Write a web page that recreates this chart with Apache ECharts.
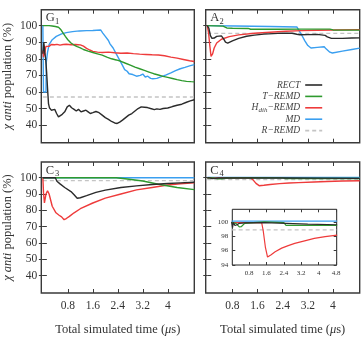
<!DOCTYPE html>
<html>
<head>
<meta charset="utf-8">
<script src="https://cdn.jsdelivr.net/npm/echarts@6/dist/echarts.min.js"></script>
<style>
  html, body { margin: 0; padding: 0; background: #fff; }
  #chart { width: 362px; height: 337px; }
</style>
</head>
<body>
<div id="chart"></div>
<script>
// series names and tick labels
const seriesNames = ['RECT', 'T−REMD', 'H_dih−REMD', 'MD', 'R−REMD']
const panelLabels = [['G', '1'], ['A', '2'], ['C', '3'], ['C', '4']]
const xTicks = [0.8, 1.6, 2.4, 3.2, 4]
const yTicks = [40, 50, 60, 70, 80, 90, 100]
const insetXTicks = [0.8, 1.6, 2.4, 3.2, 4, 4.8]
const insetYTicks = [94, 96, 98, 100]

// G1
const g1Rect = [[0,83],[0.03,90],[0.06,84],[0.09,80],[0.12,72],[0.15,62],[0.18,53],[0.21,50.5],[0.27,49],[0.33,48.5],[0.38,49.5],[0.44,47],[0.5,45],[0.56,45.5],[0.62,46.5],[0.7,48],[0.78,51],[0.85,52],[0.92,50.5],[1.0,49.5],[1.07,48.5],[1.14,49.5],[1.22,48],[1.3,48.5],[1.38,49],[1.45,48],[1.52,47],[1.6,47.5],[1.7,48.2],[1.8,47.5],[1.9,46],[2.0,44.5],[2.1,43.5],[2.2,42.2],[2.3,41.3],[2.38,41],[2.46,41.8],[2.55,43],[2.65,44.5],[2.75,46],[2.85,47],[2.95,48.5],[3.05,50],[3.15,51],[3.25,50.8],[3.35,50.6],[3.45,50],[3.57,49.3],[3.65,49.8],[3.75,49.5],[3.85,50],[4.0,50.3],[4.15,51.2],[4.3,52],[4.45,52.6],[4.6,53.8],[4.72,54.6],[4.85,55.3]]
const g1Tremd = [[0,100],[0.1,100],[0.2,100],[0.3,99.8],[0.4,99.5],[0.5,99],[0.58,97.5],[0.65,95.5],[0.72,93.5],[0.8,91.5],[0.9,89.5],[1.0,88.3],[1.1,87.3],[1.2,86.6],[1.3,85.6],[1.45,84.6],[1.6,83.8],[1.75,83],[1.9,82.2],[2.05,81],[2.2,80],[2.35,79.3],[2.5,78.5],[2.65,77.3],[2.8,76.2],[2.95,75],[3.1,74],[3.25,73],[3.4,72],[3.55,71],[3.7,70.2],[3.85,69.4],[4.0,68.8],[4.15,68.1],[4.3,67.4],[4.45,66.8],[4.6,66.4],[4.75,66.2],[4.85,66.1]]
const g1Hdih = [[0,85],[0.02,81],[0.04,88],[0.06,82],[0.08,86],[0.1,87.5],[0.15,88],[0.2,87.5],[0.27,88.6],[0.33,89.3],[0.38,88.5],[0.45,88.7],[0.55,88.2],[0.65,88.6],[0.75,88.8],[0.9,88.5],[1.05,88.6],[1.2,88.4],[1.3,87.6],[1.4,86.3],[1.5,85.3],[1.6,84.5],[1.75,84],[1.9,83.8],[2.1,84],[2.3,83.6],[2.5,83.3],[2.7,83.5],[2.9,83.1],[3.1,82.8],[3.3,82.6],[3.5,82.4],[3.7,82.3],[3.9,81.8],[4.1,81],[4.3,80.4],[4.5,79.6],[4.7,78.8],[4.85,78.4]]
const g1Md = [[0,100],[0.01,100],[0.02,60],[0.1,60],[0.11,78],[0.15,84],[0.2,88.5],[0.3,91.5],[0.43,93.5],[0.6,95],[0.75,95.8],[0.95,96.4],[1.17,96.8],[1.4,97],[1.6,97.1],[1.85,97.4],[1.92,95.5],[2.0,93.5],[2.05,92.3],[2.1,91],[2.15,89],[2.25,86.5],[2.35,83],[2.45,79.5],[2.55,76],[2.62,73.5],[2.7,72.5],[2.76,71],[2.82,72],[2.88,70.5],[2.94,71],[3.0,69.5],[3.06,70.5],[3.12,70],[3.2,70.8],[3.28,69],[3.36,69.5],[3.45,68.2],[3.52,68],[3.57,67.3],[3.65,68.2],[3.8,69.2],[3.95,70.3],[4.1,71.5],[4.25,72.8],[4.4,74],[4.55,74.8],[4.7,75.7],[4.85,76.5]]
const g1Rremd = [[0,57],[4.85,57]]

// A2
const a2Rect = [[0,100],[0.05,98.5],[0.1,94],[0.15,92.3],[0.22,92.5],[0.3,93.5],[0.45,93.8],[0.52,92],[0.58,90],[0.65,89.5],[0.8,90.8],[1.0,92.3],[1.25,93.6],[1.5,94.3],[1.8,94.9],[2.1,95.2],[2.4,95.5],[2.7,95.4],[2.85,94.8],[2.95,94.5],[3.2,94.6],[3.5,94.7],[3.75,94.1],[3.82,93.2],[3.95,92.3],[4.3,92.3],[4.6,92.5],[4.85,92.6]]
const a2Tremd = [[0,100],[0.5,99.7],[0.55,99.2],[0.62,98.6],[0.8,98.4],[1.3,98.3],[1.38,97.8],[2.2,97.8],[3.0,97.9],[3.9,97.9],[4.0,97.4],[4.85,97.3]]
const a2Hdih = [[0,100],[0.04,96],[0.08,88],[0.12,81.5],[0.14,80.4],[0.17,83],[0.22,86.5],[0.3,89.5],[0.45,91.8],[0.7,93.4],[1.0,94.4],[1.5,95.4],[2.0,96],[2.5,96.6],[3.0,97],[3.5,97.2],[4.0,97.4],[4.85,97.6]]
const a2Md = [[0,100],[0.9,99.8],[2.0,99.5],[2.85,99.2],[2.92,97],[3.0,94.5],[3.1,91],[3.2,88],[3.3,86.5],[3.5,86.9],[3.72,87.3],[3.78,86],[3.9,84],[3.98,83.5],[4.3,84.6],[4.6,85.6],[4.85,86.4]]
const a2Rremd = [[0,95.3],[4.85,95.3]]

// C3
const c3Rect = [[0,100],[0.4,100],[0.45,97.8],[0.55,96.2],[0.7,94],[0.9,91.5],[1.0,89.5],[1.1,87.4],[1.2,87.7],[1.4,89],[1.7,91],[2.0,92.4],[2.5,94],[3.0,95],[3.5,95.8],[4.0,96.4],[4.4,96.8],[4.85,97.2]]
const c3Tremd = [[0,100],[2.35,100],[2.7,99.2],[3.2,98],[3.7,96],[4.3,94],[4.85,92.7]]
const c3Hdih = [[0,100],[0.02,91],[0.05,84.5],[0.1,90],[0.15,92],[0.2,90],[0.3,82.5],[0.42,78.5],[0.52,77],[0.6,76],[0.68,74.3],[0.75,75],[0.85,76.3],[1.0,78.5],[1.2,81],[1.6,84.5],[2.0,87.5],[2.5,90],[3.0,92.5],[3.5,94],[4.0,95.5],[4.4,96.3],[4.85,96.8]]
const c3Md = [[0,100],[4.85,100]]
const c3Rremd = [[0,98.2],[4.85,98.2]]

// C4 (also shown in the inset)
const c4Rect = [[0,100],[0.04,99.2],[0.08,99.9],[0.15,99.5],[0.25,99.6],[0.35,99.8],[0.6,99.85],[1.5,99.9],[2.5,99.8],[3.5,99.7],[4.85,99.6]]
const c4Tremd = [[0,99.9],[0.2,99.8],[0.35,99.3],[0.45,99.35],[0.6,99.8],[1.0,99.9],[1.5,100],[2.4,99.9],[2.5,99.5],[3.5,99.5],[4.85,99.5]]
const c4Hdih = [[0,99.9],[1.38,99.9],[1.45,98.8],[1.55,96.5],[1.65,95.1],[1.8,95.4],[2.0,95.85],[2.3,96.35],[2.6,96.7],[2.9,97],[3.4,97.4],[3.8,97.7],[4.3,97.95],[4.85,98.15]]
const c4Md = [[0,100.1],[4.85,100.1]]
const c4Rremd = [[0,98.9],[4.85,98.9]]

const panels = [
  [g1Rect, g1Tremd, g1Hdih, g1Md, g1Rremd],
  [a2Rect, a2Tremd, a2Hdih, a2Md, a2Rremd],
  [c3Rect, c3Tremd, c3Hdih, c3Md, c3Rremd],
  [c4Rect, c4Tremd, c4Hdih, c4Md, c4Rremd],
  [c4Rect, c4Tremd, c4Hdih, c4Md, c4Rremd],
]

const FONT = 'Liberation Serif'
const FRAME = '#3a3a3a'
const TEXT = '#333'
const COLORS = ['#2b2b2b', '#2e9a2e', '#ee3b3b', '#3a9ff0', '#c4c4c4']

const grids = [
  { left: 41.3, top: 9.7, width: 153, height: 133 },
  { left: 205.7, top: 9.7, width: 154, height: 133 },
  { left: 41.3, top: 162, width: 153, height: 133.5 },
  { left: 205.7, top: 162, width: 154, height: 133.5 },
  { left: 232.3, top: 209.3, width: 104.4, height: 55.7 },
]

const xAxis = []
const yAxis = []
grids.forEach((g, i) => {
  const inset = i === 4
  const bottomRow = i === 2 || i === 3
  const leftCol = i === 0 || i === 2
  const xr = inset ? { min: 0.03, max: 4.83 } : { min: -0.05, max: 4.85 }
  const yr = inset ? { min: 94, max: 101.75 } : { min: 29.4, max: 109.6 }
  const xt = inset ? insetXTicks : xTicks
  const yt = inset ? insetYTicks : yTicks
  const tick = (vals) => ({ inside: true, length: inset ? 3 : 4, customValues: vals, lineStyle: { color: FRAME, width: 1 } })
  const fs = inset ? 7 : 11.5
  ;['bottom', 'top'].forEach(pos => {
    const ax = {
      gridIndex: i, type: 'value', position: pos, ...xr,
      axisLine: { show: false }, splitLine: { show: false },
      axisTick: tick(xt),
      axisLabel: {
        show: pos === 'bottom' && (bottomRow || inset), customValues: xt,
        fontFamily: FONT, fontSize: fs, color: TEXT, margin: inset ? 5 : 7,
      },
    }
    if (pos === 'bottom' && bottomRow) {
      ax.name = 'Total simulated time ({i|μ}s)'
      ax.nameLocation = 'middle'
      ax.nameGap = 30
      ax.nameTextStyle = { fontFamily: FONT, fontSize: 12.5, color: TEXT, rich: { i: { fontFamily: FONT, fontSize: 12.5, fontStyle: 'italic', color: TEXT } } }
    }
    xAxis.push(ax)
  })
  ;['left', 'right'].forEach(pos => {
    const ax = {
      gridIndex: i, type: 'value', position: pos, ...yr,
      axisLine: { show: false }, splitLine: { show: false },
      axisTick: tick(yt),
      axisLabel: {
        show: pos === 'left' && (leftCol || inset), customValues: yt,
        fontFamily: FONT, fontSize: fs, color: TEXT, margin: 4,
      },
    }
    if (pos === 'left' && leftCol) {
      ax.name = '{i|χ} {i|anti} population (%)'
      ax.nameLocation = 'middle'
      ax.nameRotate = 90
      ax.nameGap = 27
      ax.nameTextStyle = { fontFamily: FONT, fontSize: 12.5, color: TEXT, rich: { i: { fontFamily: FONT, fontSize: 12.5, fontStyle: 'italic', color: TEXT } } }
    }
    yAxis.push(ax)
  })
})

// draw order: dashed first, black on top
const drawOrder = [4, 3, 2, 1, 0]
const series = []
panels.forEach((arrs, p) => {
  drawOrder.forEach(k => {
    series.push({
      name: seriesNames[k],
      type: 'line',
      xAxisIndex: p * 2,
      yAxisIndex: p * 2,
      data: arrs[k],
      symbol: 'none',
      clip: true,
      lineStyle: {
        color: COLORS[k],
        width: p === 4 ? 1.2 : 1.4,
        type: k === 4 ? [4, 3] : 'solid',
      },
      itemStyle: { color: COLORS[k] },
      z: 2 + (4 - k) * 0.01,
    })
  })
})

const graphic = []
panelLabels.forEach(([L, sub], i) => {
  const g = grids[i]
  graphic.push({ type: 'text', left: g.left + 4.5, top: g.top + 2, style: { text: L, font: `12.5px "${FONT}"`, fill: TEXT } })
  graphic.push({ type: 'text', left: g.left + 13.8, top: g.top + 7.5, style: { text: sub, font: `8.5px "${FONT}"`, fill: TEXT } })
})

const chart = echarts.init(document.getElementById('chart'), null, { renderer: 'canvas' })
chart.setOption({
  animation: false,
  backgroundColor: '#fff',
  grid: grids.map((g, i) => ({
    ...g,
    show: true,
    borderColor: i === 4 ? '#222' : FRAME,
    borderWidth: i === 4 ? 1 : 1.4,
    backgroundColor: i === 4 ? '#fff' : 'transparent',
    containLabel: false,
  })),
  xAxis,
  yAxis,
  legend: {
    data: seriesNames,
    orient: 'vertical',
    align: 'right',
    right: 39,
    top: 79.3,
    padding: 0,
    itemWidth: 17,
    itemHeight: 8,
    itemGap: 0,
    selectedMode: false,
    itemStyle: { opacity: 0 },
    lineStyle: { width: 1.6 },
    formatter: name => name === 'H_dih−REMD' ? '{i|H}{s|dih}{i|−REMD}' : '{i|' + name + '}',
    textStyle: {
      fontFamily: FONT, fontSize: 9.5, color: '#444', lineHeight: 11.4,
      rich: {
        i: { fontFamily: FONT, fontSize: 9.5, fontStyle: 'italic', color: '#444', lineHeight: 11.4 },
        s: { fontFamily: FONT, fontSize: 7, fontStyle: 'italic', color: '#444', lineHeight: 7, verticalAlign: 'bottom' },
      },
    },
  },
  graphic,
  series,
})
</script>
</body>
</html>
